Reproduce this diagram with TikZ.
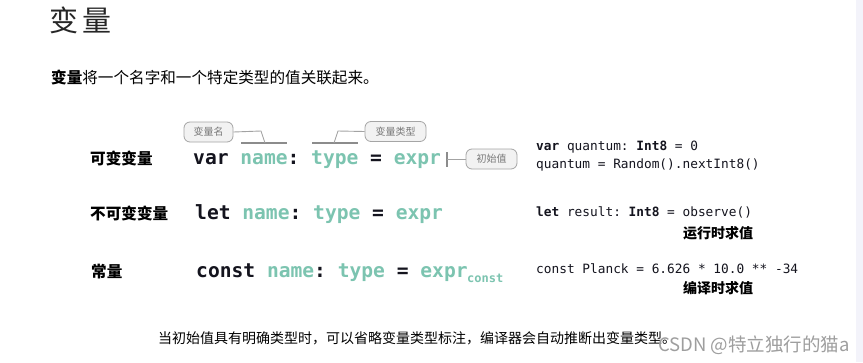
\documentclass[tikz,border=0pt]{standalone}
\usepackage{fontspec}
\setmainfont{Noto Sans CJK SC}
\newfontfamily\codefont{DejaVu Sans Mono}
\newfontfamily\wmfont{Noto Sans CJK SC}
\definecolor{tealc}{RGB}{124,196,176}
\definecolor{ink}{RGB}{20,20,30}
\definecolor{tagfill}{RGB}{242,242,242}
\definecolor{tagdraw}{RGB}{165,165,165}
\definecolor{tagtext}{RGB}{120,120,120}
\definecolor{lineg}{RGB}{140,140,140}
\definecolor{strip}{RGB}{243,243,250}
\newcommand{\tl}[1]{\textcolor{tealc}{#1}}
\tikzset{
  bigcode/.style={inner sep=0pt, anchor=base west, text=ink, font=\codefont\bfseries\frenchspacing\fontsize{19.6}{22}\selectfont},
  smallcode/.style={inner sep=0pt, anchor=base west, text=ink, font=\codefont\frenchspacing\fontsize{12.8}{15}\selectfont},
  rowlabel/.style={inner sep=0pt, anchor=base west, text=black, font=\bfseries\fontsize{15.6}{18}\selectfont},
  evallabel/.style={inner sep=0pt, anchor=base west, text=black, font=\bfseries\fontsize{14}{16}\selectfont},
  tag/.style={draw=tagdraw, fill=tagfill, rounded corners=6pt, line width=0.8pt, text=tagtext,
     font=\fontsize{10}{12}\selectfont, inner sep=0pt, minimum height=20pt},
  uline/.style={draw=lineg, line width=2pt},
  conn/.style={draw=lineg!80, line width=0.9pt},
}
\begin{document}
\begin{tikzpicture}[x=1pt,y=-1pt]
\useasboundingbox (0,0) rectangle (863,362);
\fill[white] (0,0) rectangle (863,362);
\fill[strip] (856,0) rectangle (863,362);

% title and subtitle
\node[inner sep=0pt, anchor=base west, text=black!85, font=\fontsize{29}{32}\selectfont] (title) at (49,31) {变\hspace{4pt}量};
\node[inner sep=0pt, anchor=base west, text=black, font=\fontsize{15.6}{18}\selectfont] (sub) at (51,83) {\textbf{变量}将一个名字和一个特定类型的值关联起来。};

% row labels
\node[rowlabel] (l1) at (90,164) {可变变量};
\node[rowlabel] (l2) at (90,219) {不可变变量};
\node[rowlabel] (l3) at (91,277) {常量};

% left code
\node[bigcode] (c1) at (193,164) {var \tl{name}: \tl{type} = \tl{expr}};
\node[bigcode] (c2) at (195,219) {let \tl{name}: \tl{type} = \tl{expr}};
\node[bigcode] (c3) at (196,277) {const \tl{name}: \tl{type} = \tl{expr}};
\node[inner sep=0pt, anchor=base west, text=tealc, font=\codefont\bfseries\fontsize{12}{14}\selectfont] (c3sub) at (467,282) {const};

% annotations
\node[tag, minimum width=49pt] (tname) at (208.5,132) {变量名};
\node[tag, minimum width=61pt] (ttype) at (395.5,131.5) {变量类型};
\node[tag, minimum width=51pt] (tinit) at (491.5,159) {初始值};

\coordinate (n1) at (241,143);
\coordinate (n2) at (287,143);
\coordinate (y1) at (312,143);
\coordinate (y2) at (358,143);
\coordinate (nk) at (261,131);
\coordinate (nj) at (265,143);
\coordinate (yk) at (338,131);
\coordinate (yj) at (334,143);
\coordinate (bt) at (447,152);
\coordinate (bb) at (447,167);
\coordinate (bm) at (447,159);

\draw[uline] (n1) -- (n2);
\draw[uline] (y1) -- (y2);
\draw[conn] (tname.east) -- (nk) -- (nj);
\draw[conn] (ttype.west) -- (yk) -- (yj);
\draw[uline, line width=1.6pt] (bt) -- (bb);
\draw[conn] (bm) -- (tinit.west);

% right code
\node[smallcode] (r1) at (536,150.5) {\textbf{var} quantum: \textbf{Int8} = 0};
\node[smallcode] (r2) at (536,168.5) {quantum = Random().nextInt8()};
\node[smallcode] (r3) at (536,216.5) {\textbf{let} result: \textbf{Int8} = observe()};
\node[evallabel] (e1) at (683,238) {运行时求值};
\node[smallcode] (r4) at (536,273.5) {const Planck = 6.626 * 10.0 ** -34};
\node[evallabel] (e2) at (683,293) {编译时求值};

% footer
\node[inner sep=0pt, anchor=base west, text=black, font=\fontsize{14}{16}\selectfont] (foot) at (158,343) {当初始值具有明确类型时，可以省略变量类型标注，编译器会自动推断出变量类型。};
\node[inner sep=0pt, anchor=base east, text=black!38, font=\wmfont\fontsize{18.5}{20}\selectfont] (wm) at (850,351) {CSDN @特立独行的猫a};
\end{tikzpicture}
\end{document}
